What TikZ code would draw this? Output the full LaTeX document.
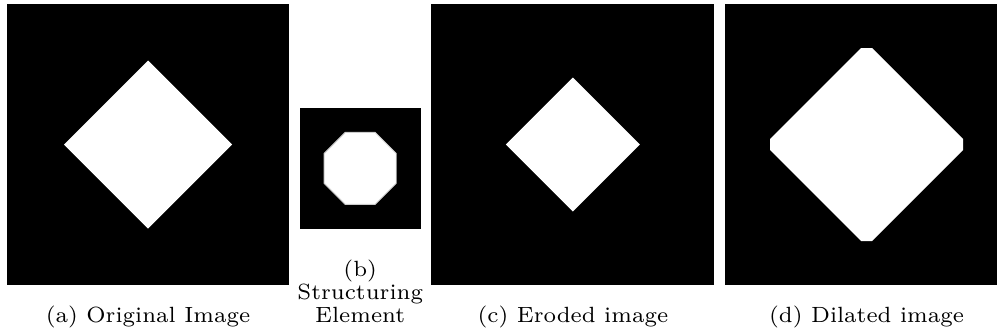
\documentclass[tikz,border=0pt]{standalone}
\usetikzlibrary{positioning, calc}

\newcommand{\pxl}{0.318pt}

\begin{document}
\begin{tikzpicture}[
    x=\pxl, y=-\pxl,
    node distance=3.4pt,
    every node/.style={align=center},
    panel/.style={rectangle, fill=black, inner sep=0pt, outer sep=0pt, minimum width=283*\pxl, minimum height=281*\pxl},
    element/.style={panel, minimum width=121*\pxl, minimum height=121*\pxl},
    blob/.style={fill=white},
    caption/.style={anchor=base, inner sep=0pt, font=\fontsize{7}{7.31}\selectfont}
]

\clip (0,0) rectangle (997,335);
\fill[white] (0,0) rectangle (997,335);

% Image panels
\node (orig) [panel, minimum width=282*\pxl] at (148,144.5) {};
\node (se) [element, right=of orig, yshift=-7.6pt] {};
\node (eroded) [panel, right=of se, yshift=7.6pt] {};
\node (dilated) [panel, right=of eroded] {};

% Original square
\fill[blob, shift={(orig.center)}] (0,-84) -- (84,0) -- (0,84) -- (-84,0) -- cycle;

% Octagonal structuring element
\fill[blob, draw=black!20, line width=0.3pt, shift={(se.center)}]
    (22.5:39) \foreach \k in {1,...,7} { -- (22.5+\k*45:39) } -- cycle;

% Eroded square
\fill[blob, shift={(eroded.center)}] (0,-67) -- (67,0) -- (0,67) -- (-67,0) -- cycle;

% Dilated square
\fill[blob, shift={(dilated.center)}]
    (-5.5,-96.5) -- (5.5,-96.5) -- (96.5,-5.5) -- (96.5,5.5)
    -- (5.5,96.5) -- (-5.5,96.5) -- (-96.5,5.5) -- (-96.5,-5.5) -- cycle;

% Captions
\coordinate (capline) at (0,322);
\node (capa) [caption] at (orig |- capline) {(a) Original Image};
\node (capb) [caption] at (se |- capline) {(b)\\Structuring\\Element};
\node (capc) [caption] at (eroded |- capline) {(c) Eroded image};
\node (capd) [caption] at (dilated |- capline) {(d) Dilated image};

\end{tikzpicture}
\end{document}
